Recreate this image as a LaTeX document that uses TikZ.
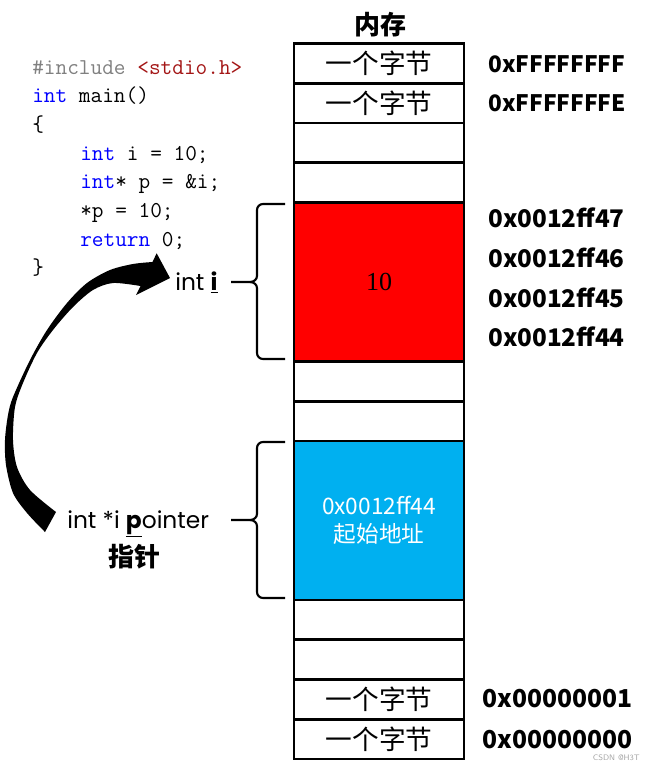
\documentclass[tikz,border=0pt]{standalone}
\usepackage{fontspec}
\newfontfamily\cjk{Noto Sans CJK SC}
\newfontfamily\popf{Poppins}
\newfontfamily\serf{Liberation Serif}
\definecolor{codeblue}{RGB}{0,0,255}
\definecolor{codegray}{RGB}{128,128,128}
\definecolor{codered}{RGB}{163,21,21}
\definecolor{cellred}{RGB}{255,0,0}
\definecolor{cellblue}{RGB}{0,176,240}
\begin{document}
\begin{tikzpicture}[x=0.75pt,y=-0.75pt,
  code/.style={anchor=base west, inner sep=0pt, font=\ttfamily\fontsize{17}{20}\selectfont},
  cell/.style={draw, line width=2.2pt, minimum width=127.5pt, minimum height=29.8125pt, inner sep=0pt, outer sep=0pt, font=\cjk\fontsize{20}{24}\selectfont},
  bigcell/.style={cell, minimum height=119.25pt},
  hexlab/.style={anchor=west, inner sep=0pt, font=\cjk\bfseries\fontsize{18.2}{22}\selectfont},
  lab/.style={anchor=base west, inner sep=0pt, font=\popf\fontsize{17.5}{20}\selectfont},
  bracestyle/.style={line width=1.6pt}]
\useasboundingbox (0,0) rectangle (661,772);

% code
\node[code] (l1) at (32,74) {\textcolor{codegray}{\#include} \textcolor{codered}{<stdio.h>}};
\node[code] (l2) at (32,102.7) {\textcolor{codeblue}{int} main()};
\node[code] (l3) at (32,131.3) {\{};
\node[code] (l4) at (80,160) {\textcolor{codeblue}{int} i = 10;};
\node[code] (l5) at (80,188.6) {\textcolor{codeblue}{int}* p = \&i;};
\node[code] (l6) at (80,217.3) {*p = 10;};
\node[code] (l7) at (80,246) {\textcolor{codeblue}{return} 0;};
\node[code] (l8) at (32,274.6) {\}};

% memory title
\node[font=\cjk\bfseries\fontsize{19.5}{22}\selectfont] (title) at (380,25) {内存};

% memory cells
\node[cell] (c0) at (379,63.375) {一个字节};
\node[cell] (c1) at (379,103.125) {一个字节};
\node[cell] (c2) at (379,142.875) {};
\node[cell] (c3) at (379,182.625) {};
\node[bigcell, fill=cellred, font=\serf\fontsize{19.5}{22}\selectfont] (cred) at (379,282) {10};
\node[cell] (c8) at (379,381.375) {};
\node[cell] (c9) at (379,421.125) {};
\node[bigcell, fill=cellblue, text=white, align=center, font=\cjk\fontsize{17}{21}\selectfont] (cblue) at (379,520.5) {0x0012ff44\\起始地址};
\node[cell] (c14) at (379,619.875) {};
\node[cell] (c15) at (379,659.625) {};
\node[cell] (c16) at (379,699.375) {一个字节};
\node[cell] (c17) at (379,739.125) {一个字节};

% addresses
\node[hexlab, font=\cjk\bfseries\fontsize{17}{22}\selectfont] (a0) at (488,64) {0xFFFFFFFF};
\node[hexlab, font=\cjk\bfseries\fontsize{17}{22}\selectfont] (a1) at (488,103) {0xFFFFFFFE};
\node[hexlab] (a47) at (488,218) {0x0012ff47};
\node[hexlab] (a46) at (488,258) {0x0012ff46};
\node[hexlab] (a45) at (488,298) {0x0012ff45};
\node[hexlab] (a44) at (488,337) {0x0012ff44};
\node[hexlab, font=\cjk\bfseries\fontsize{18.5}{22}\selectfont] (a16) at (482,699) {0x00000001};
\node[hexlab, font=\cjk\bfseries\fontsize{18.5}{22}\selectfont] (a17) at (482,740) {0x00000000};

% labels
\node[lab] (inti) at (175,290) {int \underline{\textbf{i}}};
\node[lab] (ptr) at (67,528) {int *i \underline{\textbf{p}}ointer};
\node[font=\cjk\bfseries\fontsize{19.5}{22}\selectfont] (zz) at (134,557) {指针};

% braces
\coordinate (rtip) at (231,282);
\coordinate (btip) at (231,520);
\draw[bracestyle] (285,204) -- (263,204) to[out=180,in=90] (257,210) -- (257,276) to[out=-90,in=0] (250,282) -- (rtip);
\draw[bracestyle] (250,282) to[out=0,in=90] (257,288) -- (257,353) to[out=-90,in=180] (263,359) -- (285,359);
\draw[bracestyle] (285,442) -- (263,442) to[out=180,in=90] (257,448) -- (257,514) to[out=-90,in=0] (250,520) -- (btip);
\draw[bracestyle] (250,520) to[out=0,in=90] (257,526) -- (257,592) to[out=-90,in=180] (263,598) -- (285,598);

% curved arrow from pointer to int i
\fill[black] plot[smooth, tension=0.5] coordinates {(45,532) (27,513) (13,493) (6,465) (5,440) (8,415) (13,397) (30,360) (47,330) (67,303) (87,283) (110,270) (133,264) (152.4,262)}
  -- (156.7,253.3) -- (170,278) -- (136,295) -- (140.5,286)
  -- plot[smooth, tension=0.5] coordinates {(140.5,286) (113,283) (93,290) (73,307) (53,330) (37,353) (23,383) (15,407) (13,440) (17,467) (30,490) (56,512)} -- cycle;

% watermark
\node[text=black!35, font=\sffamily\fontsize{6}{7}\selectfont, anchor=east, inner sep=0pt] (wm) at (640,758) {CSDN @H3T};
\end{tikzpicture}
\end{document}
